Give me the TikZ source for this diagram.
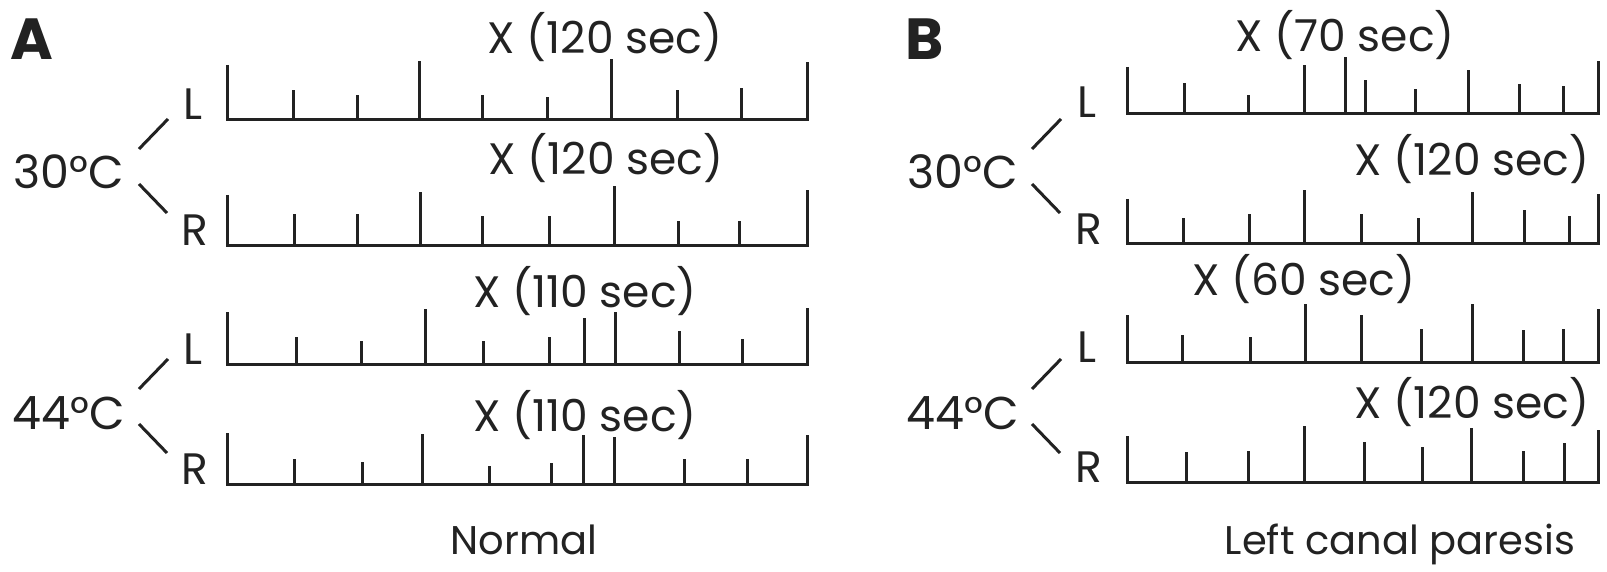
\documentclass[tikz,border=0pt]{standalone}
\usepackage{fontspec}
\setmainfont{Poppins}
\definecolor{ink}{HTML}{222222}
\begin{document}
\begin{tikzpicture}[x=1pt,y=-1pt,
  ln/.style={line width=3pt, draw=ink},
  lbl/.style={font=\fontsize{44}{44}\selectfont, text=ink, inner sep=0pt, anchor=base},
  temp/.style={font=\fontsize{46}{46}\selectfont, text=ink, inner sep=0pt, anchor=base},
  captxt/.style={font=\fontsize{40}{40}\selectfont, text=ink, inner sep=0pt, anchor=base},
  panel/.style={font=\fontsize{58}{58}\selectfont\bfseries, text=ink, inner sep=0pt, anchor=base west},
  link/.style={line width=3pt, draw=ink, line cap=butt}]
\path[use as bounding box, fill=white] (0,0) rectangle (1607,572);

% axis macro: start x, end x, baseline y, start height, end height, inner ticks
\newcommand{\tickrow}[6]{%
  \draw[ln, line join=miter] (#1,#3-#4) -- (#1,#3) -- (#2,#3) -- (#2,#3-#5);
  \foreach \tx/\th in {#6} { \draw[ln] (\tx,#3) -- (\tx,#3-\th); }
}

% ---------- Panel A ----------
\node[panel] (pA) at (10,60) {A};
\tickrow{227}{807}{120}{55}{58}{293.7/30,357.4/25,419.5/59,482.3/25,547.6/23,611.2/61,677.7/30,741.7/32}
\tickrow{227}{807}{246}{51}{56}{294.9/32,357.4/32,420.2/54,482.3/30,549.5/30,614.4/60,678.4/25,739.7/25}
\tickrow{227}{807}{364}{52}{56}{296.9/27,361.3/23,425.4/55,483.9/23,549.5/27,584.3/46,615.2/52,679.2/33,742.5/25}
\tickrow{227}{807}{484}{51}{49}{294.9/25,362.9/22,422.2/50,489.4/18,551.9/21,583.5/49,614.4/47,684.4/25,747.6/25}

\node[lbl] (a1) at (605,54) {X (120 sec)};
\node[lbl] (a2) at (606,175) {X (120 sec)};
\node[lbl] (a3) at (585,308) {X (110 sec)};
\node[lbl] (a4) at (585,431) {X (110 sec)};

\node[temp] (t30a) at (69,189) {30°C};
\node[temp] (t44a) at (69,429) {44°C};
\node[lbl] (la1) at (193,120) {L};
\node[lbl] (ra1) at (195,246) {R};
\node[lbl] (la2) at (193,364) {L};
\node[lbl] (ra2) at (195,484) {R};
\draw[link] (139,149) -- (168,119);
\draw[link] (139,184) -- (167,213);
\draw[link] (139,389) -- (168,359);
\draw[link] (139,424) -- (167,453);

\node[captxt] (na) at (524,554) {Normal};

% ---------- Panel B ----------
\node[panel] (pB) at (905,60) {B};
\tickrow{1127.5}{1598.5}{114}{47}{53}{1184.2/31,1248.1/18.5,1304.2/49,1345.5/56.5,1365.7/33.6,1415.5/25,1468.2/44,1519.3/30,1563/28}
\tickrow{1127.5}{1598.5}{244}{45}{50}{1183.2/26,1249.7/30,1304.5/54,1361.3/30,1418.8/26,1472.6/52,1524.4/34,1569.1/28}
\tickrow{1127.5}{1598.5}{362}{47}{53}{1182.7/27,1250/25,1305/58,1361/47,1421.7/33,1472.7/58,1523.3/32,1563.3/33}
\tickrow{1127.5}{1598.5}{482}{46}{52}{1186.6/30,1248.1/31,1304.5/56,1364/40.5,1422.9/34.6,1471.6/54,1523/31,1564/38.6}

\node[lbl] (b1) at (1345,52) {X (70 sec)};
\node[lbl] (b2) at (1472,176) {X (120 sec)};
\node[lbl] (b3) at (1304,295) {X (60 sec)};
\node[lbl] (b4) at (1472,418) {X (120 sec)};

\node[temp] (t30b) at (963,189) {30°C};
\node[temp] (t44b) at (963,429) {44°C};
\node[lbl] (lb1) at (1087,118) {L};
\node[lbl] (rb1) at (1089,244) {R};
\node[lbl] (lb2) at (1087,362) {L};
\node[lbl] (rb2) at (1089,482) {R};
\draw[link] (1032,149) -- (1061,119);
\draw[link] (1032,184) -- (1060,213);
\draw[link] (1032,389) -- (1061,359);
\draw[link] (1032,424) -- (1060,453);

\node[captxt] (nb) at (1400,554) {Left canal paresis};
\end{tikzpicture}
\end{document}
